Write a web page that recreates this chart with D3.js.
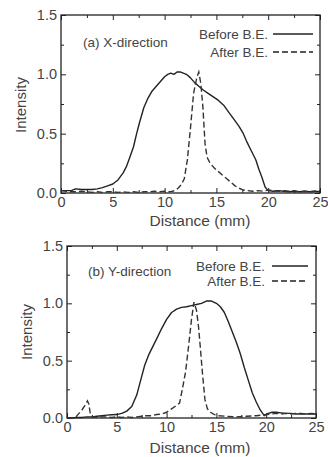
<!DOCTYPE html>
<html><head><meta charset="utf-8">
<script src="https://cdn.jsdelivr.net/npm/d3@7"></script>
<style>
html,body{margin:0;padding:0;background:#fff;}
svg{display:block;font-family:"Liberation Sans",Arial,sans-serif;}
</style></head>
<body>
<svg id="c" width="328" height="457"></svg>
<script>
// ---------- data ----------
const xTicks = [0, 5, 10, 15, 20, 25];
const yTicks = [0, 0.5, 1.0, 1.5];
const xMinor = [2.5, 7.5, 12.5, 17.5, 22.5];
const yMinor = [0.25, 0.75, 1.25];
const legendLabels = ["Before B.E.", "After B.E."];
const panelTitles = ["(a) X-direction", "(b) Y-direction"];
const xTitle = "Distance (mm)";
const yTitle = "Intensity";

const aBeforeX = [0,0.5,1,1.4,2,2.5,3,3.5,4,4.5,5,5.5,6,6.3,6.6,7,7.3,7.6,8,8.4,8.8,9.2,9.6,10,10.3,10.6,10.9,11.2,11.5,11.8,12.1,12.5,12.9,13.3,13.7,14.2,14.7,15.2,15.7,16.2,16.7,17.2,17.6,18,18.4,18.8,19.1,19.4,19.7,20,20.5,21,21.5,22,22.5,23,23.5,24,24.5,25];
const aBeforeY = [0.02,0.02,0.02,0.035,0.03,0.03,0.03,0.035,0.045,0.06,0.076,0.11,0.17,0.22,0.29,0.39,0.5,0.6,0.72,0.8,0.86,0.9,0.94,0.98,1.0,1.01,1.0,1.02,1.02,1.01,1.0,0.97,0.93,0.9,0.87,0.84,0.81,0.78,0.74,0.68,0.62,0.56,0.5,0.42,0.35,0.28,0.2,0.13,0.05,0.02,0.015,0.02,0.015,0.01,0.015,0.01,0.015,0.01,0.015,0.01];

const aAfterX = [0,0.5,1,1.5,2,2.5,3,3.5,4,4.5,5,5.5,6,6.5,7,7.5,8,8.5,9,9.5,10,10.5,11,11.3,11.6,11.9,12.2,12.5,12.8,13.1,13.3,13.5,13.7,13.9,14.1,14.4,14.8,15.2,15.6,16,16.4,16.8,17.2,17.6,18,18.5,19,19.5,20,20.5,21,21.5,22,22.5,23,23.5,24,24.5,25];
const aAfterY = [0.02,0.015,0.01,0.01,0.015,0.01,0.005,0.01,0.005,0.01,0.01,0.005,0.01,0.005,0.01,0.005,0.01,0.01,0.015,0.01,0.015,0.01,0.02,0.04,0.07,0.12,0.28,0.55,0.84,0.97,1.02,0.92,0.72,0.42,0.3,0.25,0.21,0.18,0.15,0.12,0.09,0.06,0.04,0.025,0.02,0.015,0.02,0.015,0.025,0.02,0.015,0.02,0.015,0.02,0.01,0.015,0.01,0.015,0.02];

const bBeforeX = [0,0.5,1,1.5,2,2.5,3,3.5,4,4.5,5,5.5,6,6.5,7,7.4,7.8,8.2,8.6,9,9.5,10,10.5,11,11.5,12,12.5,13,13.5,14,14.5,15,15.4,15.8,16.2,16.6,17,17.4,17.8,18.2,18.6,19,19.4,19.8,20.2,20.6,21,21.5,22,22.5,23,23.5,24,24.5,25];
const bBeforeY = [0,0,0.005,0.005,0.01,0.01,0.015,0.02,0.025,0.028,0.03,0.04,0.06,0.1,0.2,0.33,0.46,0.55,0.62,0.69,0.78,0.86,0.92,0.95,0.965,0.97,0.98,0.99,1.0,1.02,1.02,1.0,0.97,0.92,0.84,0.75,0.66,0.56,0.44,0.33,0.22,0.14,0.07,0.02,0.04,0.05,0.05,0.045,0.04,0.04,0.035,0.035,0.035,0.035,0.035];

const bAfterX = [0,0.5,0.9,1.2,1.5,1.8,2.05,2.2,2.35,2.6,3,3.5,4,4.5,5,5.5,6,6.5,7,7.5,8,8.5,9,9.5,10,10.5,11,11.3,11.6,11.9,12.2,12.5,12.75,13.0,13.2,13.4,13.6,13.85,14.1,14.4,14.8,15.2,16,17,18,19,19.5,20,20.5,21,21.5,22,22.5,23,23.5,24,24.5,25];
const bAfterY = [0,0,0.01,0.04,0.07,0.11,0.15,0.12,0.03,0.01,0.005,0.01,0.01,0.005,0.01,0.005,0.01,0.005,0.01,0.015,0.02,0.02,0.03,0.035,0.05,0.08,0.11,0.13,0.26,0.4,0.62,0.86,1.01,0.94,0.8,0.6,0.39,0.16,0.08,0.05,0.03,0.02,0.015,0.01,0.015,0.02,0.025,0.03,0.035,0.04,0.035,0.04,0.035,0.04,0.04,0.035,0.04,0.035];

// ---------- drawing ----------
const svg = d3.select("#c");
const TXT = "#444", LN = "#222";

function zip(xs, ys){ return xs.map((x,i)=>[x, ys[i]]); }

function panel(cfg){
  const {l, r, t, b} = cfg;
  const x = d3.scaleLinear().domain([0,25]).range([l, r]);
  const y = d3.scaleLinear().domain([0,1.5]).range([b, t]);
  const g = svg.append("g");

  const styleAxis = sel => {
    sel.select(".domain").remove();
    sel.selectAll("line").attr("stroke", LN).attr("stroke-width", 1);
    sel.selectAll("text").attr("fill", TXT).attr("font-size", 14.5).attr("font-family", "Liberation Sans, Arial, sans-serif");
  };

  g.append("g").attr("transform", `translate(0,${b})`)
    .call(d3.axisBottom(x).tickValues(xTicks).tickFormat(d3.format("d")).tickSize(-5).tickPadding(4))
    .call(styleAxis);
  g.append("g").attr("transform", `translate(0,${b})`)
    .call(d3.axisBottom(x).tickValues(xMinor).tickFormat("").tickSize(-3)).call(styleAxis);
  g.append("g").attr("transform", `translate(0,${t})`)
    .call(d3.axisTop(x).tickValues(xTicks).tickFormat("").tickSize(-5)).call(styleAxis);
  g.append("g").attr("transform", `translate(0,${t})`)
    .call(d3.axisTop(x).tickValues(xMinor).tickFormat("").tickSize(-3)).call(styleAxis);
  g.append("g").attr("transform", `translate(${l},0)`)
    .call(d3.axisLeft(y).tickValues(yTicks).tickFormat(d3.format(".1f")).tickSize(-5).tickPadding(4))
    .call(styleAxis);
  g.append("g").attr("transform", `translate(${l},0)`)
    .call(d3.axisLeft(y).tickValues(yMinor).tickFormat("").tickSize(-3)).call(styleAxis);
  g.append("g").attr("transform", `translate(${r},0)`)
    .call(d3.axisRight(y).tickValues(yTicks).tickFormat("").tickSize(-5)).call(styleAxis);
  g.append("g").attr("transform", `translate(${r},0)`)
    .call(d3.axisRight(y).tickValues(yMinor).tickFormat("").tickSize(-3)).call(styleAxis);

  g.append("rect").attr("x", l).attr("y", t).attr("width", r-l).attr("height", b-t)
    .attr("fill", "none").attr("stroke", LN).attr("stroke-width", 1.3);

  const line = d3.line().x(d=>x(d[0])).y(d=>y(d[1]));
  g.append("path").datum(zip(cfg.bx, cfg.by)).attr("d", line)
    .attr("fill","none").attr("stroke", LN).attr("stroke-width", 1.4).attr("stroke-linejoin","round");
  g.append("path").datum(zip(cfg.ax, cfg.ay)).attr("d", line)
    .attr("fill","none").attr("stroke", "#333").attr("stroke-width", 1.4).attr("stroke-dasharray","6,3");

  g.append("text").attr("x", cfg.titleX).attr("y", cfg.titleY).attr("dy","0.35em")
    .attr("font-size", 13.5).attr("fill", TXT).text(cfg.title);
  legendLabels.forEach((lab, i) => {
    const ly = cfg.legY[i];
    g.append("text").attr("x", cfg.legTextR).attr("y", ly).attr("dy","0.35em")
      .attr("text-anchor","end").attr("font-size", 13.5).attr("fill", TXT).text(lab);
    g.append("line").attr("x1", cfg.legL1).attr("x2", cfg.legL2).attr("y1", ly).attr("y2", ly)
      .attr("stroke", LN).attr("stroke-width", 1.4)
      .attr("stroke-dasharray", i === 1 ? "6,3" : null);
  });
  g.append("text").attr("x", cfg.xtX).attr("y", cfg.xtY).attr("dy","0.35em")
    .attr("text-anchor","middle").attr("font-size", 15.5).attr("fill", TXT).text(xTitle);
  g.append("text").attr("transform", `translate(${cfg.ytX},${cfg.ytY}) rotate(-90)`)
    .attr("dy","0.35em").attr("text-anchor","middle").attr("font-size", 15).attr("fill", TXT).text(yTitle);
}

panel({l:61, r:320, t:15, b:193, bx:aBeforeX, by:aBeforeY, ax:aAfterX, ay:aAfterY,
  title: panelTitles[0], titleX:83, titleY:42,
  legY:[34,52], legTextR:268, legL1:273, legL2:313,
  xtX:200, xtY:221, ytX:21, ytY:105});
panel({l:67, r:316, t:246, b:418, bx:bBeforeX, by:bBeforeY, ax:bAfterX, ay:bAfterY,
  title: panelTitles[1], titleX:88, titleY:271,
  legY:[266,281], legTextR:265, legL1:272, legL2:308,
  xtX:200, xtY:448, ytX:27, ytY:332});
</script>
</body></html>
